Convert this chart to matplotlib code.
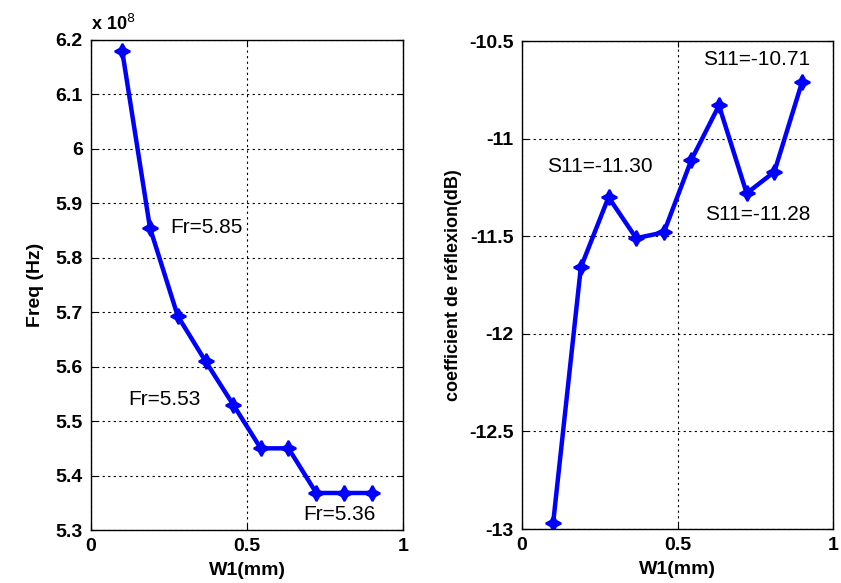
import matplotlib
matplotlib.use("Agg")
import matplotlib.pyplot as plt

# W1 widths (mm) and results
w1 = [0.1, 0.189, 0.278, 0.367, 0.456, 0.544, 0.633, 0.722, 0.811, 0.9]
freq = [6.18, 5.855, 5.693, 5.61, 5.53, 5.45, 5.45, 5.368, 5.368, 5.368]  # x 1e8 Hz
s11 = [-12.97, -11.66, -11.30, -11.51, -11.48, -11.11, -10.83, -11.28, -11.17, -10.71]

freq_ticks = [5.3, 5.4, 5.5, 5.6, 5.7, 5.8, 5.9, 6.0, 6.1, 6.2]
freq_ticklabels = ['5.3', '5.4', '5.5', '5.6', '5.7', '5.8', '5.9', '6', '6.1', '6.2']
s11_ticks = [-13, -12.5, -12, -11.5, -11, -10.5]
s11_ticklabels = ['-13', '-12.5', '-12', '-11.5', '-11', '-10.5']
x_ticks = [0, 0.5, 1]
x_ticklabels = ['0', '0.5', '1']

plt.rcParams['font.family'] = ['Liberation Sans', 'DejaVu Sans']

fig = plt.figure(figsize=(8.41, 5.83), dpi=100)
ax1 = fig.add_axes([0.1082, 0.0909, 0.371, 0.8405])
ax2 = fig.add_axes([0.6207, 0.0926, 0.370, 0.8370])

style = dict(color='#0000ff', lw=3.2, marker=(4, 1, 0), ms=11, mew=1.5)

for ax in (ax1, ax2):
    ax.set_xlim(0, 1)
    ax.set_xticks(x_ticks)
    ax.set_xticklabels(x_ticklabels, fontsize=14, fontweight='bold')
    ax.tick_params(direction='in', length=4, width=0.8, top=True, right=True, pad=6)
    ax.grid(True, color='black', linestyle=(0, (2, 3)), linewidth=0.8)
    ax.set_xlabel('W1(mm)', fontsize=14, fontweight='bold', labelpad=5)
    for sp in ax.spines.values():
        sp.set_linewidth(1.0)

ax1.plot(w1, freq, **style)
ax1.set_ylim(5.3, 6.2)
ax1.set_yticks(freq_ticks)
ax1.set_yticklabels(freq_ticklabels, fontsize=14, fontweight='bold')
ax1.set_ylabel('Freq (Hz)', fontsize=14, fontweight='bold', labelpad=8)
ax1.text(0.0, 1.012, r'x 10$^{8}$', transform=ax1.transAxes, fontsize=13,
         fontweight='bold', ha='left', va='bottom')
ax1.text(0.253, 5.855, 'Fr=5.85', fontsize=15, va='center')
ax1.text(0.119, 5.539, 'Fr=5.53', fontsize=15, va='center')
ax1.text(0.68, 5.328, 'Fr=5.36', fontsize=15, va='center')

ax2.plot(w1, s11, **style)
ax2.set_ylim(-13, -10.5)
ax2.set_yticks(s11_ticks)
ax2.set_yticklabels(s11_ticklabels, fontsize=14, fontweight='bold')
ax2.set_ylabel('coefficient de réflexion(dB)', fontsize=13, fontweight='bold', labelpad=5)
ax2.text(0.581, -10.597, 'S11=-10.71', fontsize=15, va='center')
ax2.text(0.079, -11.145, 'S11=-11.30', fontsize=15, va='center')
ax2.text(0.588, -11.39, 'S11=-11.28', fontsize=15, va='center')

fig.savefig('out.png', dpi=100)
